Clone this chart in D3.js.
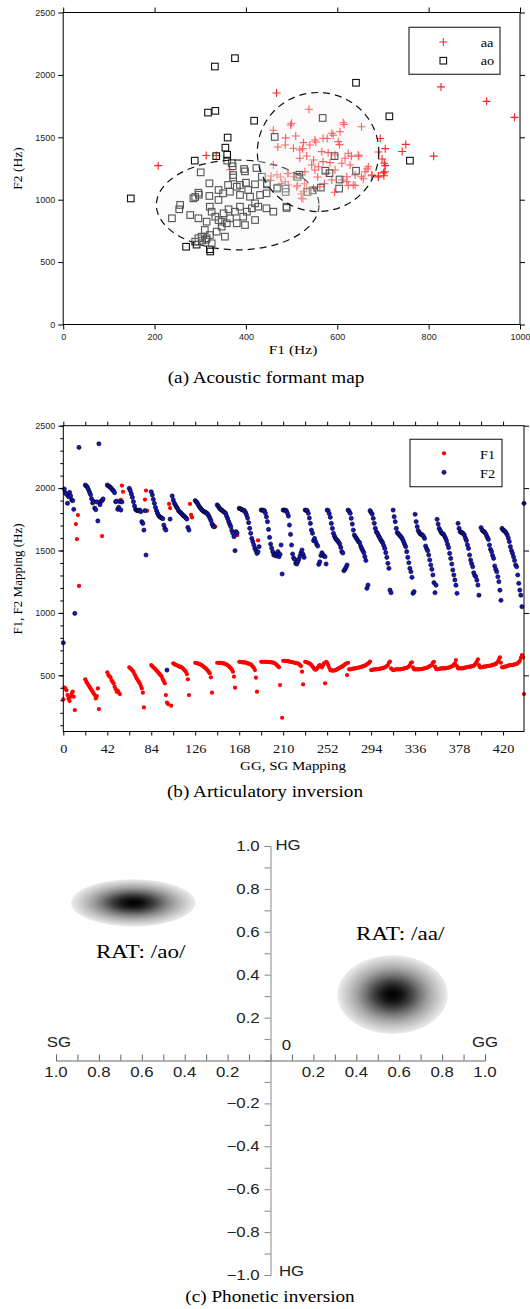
<!DOCTYPE html>
<html>
<head>
<meta charset="utf-8">
<script src="https://cdn.jsdelivr.net/npm/d3@7"></script>
<style>
  body { margin: 0; background: #fff; }
</style>
</head>
<body>
<svg id="fig" width="530" height="1309"></svg>
<script>
// ---------- (a) acoustic formant map: [F1, F2] in Hz ----------
const aaPoints = [
  [827,1904],[927,1788],[988,1660],[811,1349],[208,1273],[467,1855],[538,1725],[750,1443],[742,1386],
  [313,1354],[335,1354],[653,1584],[615,1603],[498,1598],[487,1495],[509,1511],[460,1557],[470,1422],
  [578,1490],[591,1517],[605,1441],[694,1490],[705,1409],[690,1382],[698,1326],[705,1273],[702,1192],
  [631,1349],[647,1349],[665,1246],[676,1192],[553,1462],[524,1409],[500,1612],[613,1617],[606,1545],
  [588,1532],[569,1492],[551,1478],[526,1457],[540,1438],[602,1465],[486,1438],[504,1412],[518,1398],
  [566,1385],[580,1377],[595,1358],[624,1372],[646,1358],[518,1332],[533,1350],[548,1318],[569,1305],
  [584,1297],[610,1292],[628,1278],[617,1332],[668,1264],[661,1224],[675,1198],[690,1190],[704,1224],
  [703,1292],[653,1184],[639,1198],[635,1118],[621,1184],[610,1158],[621,1144],[588,1158],[577,1212],
  [595,1238],[559,1264],[551,1238],[544,1278],[529,1224],[518,1198],[504,1184],[493,1212],[486,1144],
  [478,1131],[493,1118],[511,1104],[533,1091],[526,1064],[522,1011],[548,1091],[562,1104],[454,1155],
  [476,1182],[491,1209],[513,1114],[528,1128],[521,1046],[525,1006],[557,1182],[572,1128],[594,1060],
  [624,1114],[639,1114],[657,1168],[676,1196],[690,1182],[701,1215],[365,1240],[460,1278],[455,1190],
  [468,1200]
];
const aoPoints = [
  [332,2067],[376,2134],[641,1937],[317,1698],[333,1712],[418,1633],[568,1655],[714,1668],[759,1313],
  [360,1498],[355,1417],[359,1360],[335,1349],[359,1313],[288,1313],[301,1219],[371,1268],[372,1178],
  [398,1227],[423,1254],[463,1503],[594,1349],[641,1232],[517,1200],[574,1232],[583,1213],[148,1010],
  [369,1292],[372,1198],[396,1246],[435,1184],[446,1123],[469,1096],[320,1131],[340,1078],[361,1118],
  [380,1104],[387,1118],[400,1136],[420,1123],[296,1056],[285,1011],[320,1030],[340,998],[350,1051],
  [365,1064],[387,1038],[405,1078],[409,1024],[431,1038],[445,1051],[256,958],[254,923],[278,877],
  [238,851],[321,944],[325,904],[333,864],[340,837],[351,891],[362,923],[365,851],[376,904],[387,944],
  [394,864],[402,904],[413,931],[420,971],[427,944],[445,931],[460,904],[489,944],[420,837],[296,851],
  [314,824],[347,824],[358,811],[380,811],[398,797],[310,757],[321,717],[303,704],[296,691],[314,691],
  [336,744],[354,704],[347,784],[289,664],[325,651],[269,623],[321,603],[487,1089],[487,1062],[489,934],
  [605,1162],[604,1089],[564,1097],[546,1075],[535,1062],[513,1183],[446,1130],[468,1089],[289,1022],
  [297,1040],[322,585],[292,640],[304,672],[313,680]
];
// dashed cluster ellipses: centre and half-axes in Hz
const clusterNames = ['ao', 'aa'];
const clusterCentres = [[382, 958], [558, 1382]];
const clusterRadii = [[178, 360], [133, 477]];
const aXTicks = [0, 200, 400, 600, 800, 1000];
const aYTicks = [0, 500, 1000, 1500, 2000, 2500];

// ---------- (b) articulatory inversion: one value per GG/SG grid index ----------
const bF1 = [
  [307,401,395,380,342,313,294,329,355,369,329,222,1712,1592,1784,1216,null,null,null,null,null],
  [468,449,435,422,408,395,382,369,355,342,315,334,395,230,1883,1891,1616,null,null,null,null],
  [524,502,493,484,462,449,436,409,390,369,377,360,350,1905,2020,1971,null,null,null,null,null],
  [564,556,548,538,529,510,494,476,462,450,436,415,395,361,243,1908,1981,1818,null,null,null],
  [582,573,564,556,548,538,529,520,510,500,489,468,452,436,342,281,270,1873,1840,257,null],
  [596,590,585,582,578,574,570,567,564,556,548,538,529,510,468,342,1873,1786,1765,null,null],
  [601,599,596,593,590,586,582,576,569,562,556,547,537,527,516,484,361,1710,1696,1691,null],
  [601,601,601,600,599,598,596,593,590,586,580,574,565,556,545,529,489,401,1646,1623,null],
  [609,608,606,604,604,604,602,600,596,593,590,588,580,569,560,542,481,369,1582,null,null],
  [609,609,609,609,609,608,608,607,606,605,604,603,601,596,590,582,573,564,422,null,160],
  [617,617,616,615,614,612,611,609,607,605,603,601,599,597,596,590,582,574,529,427,null],
  [609,606,603,600,596,590,582,570,560,548,545,550,561,575,582,575,564,580,596,436,609],
  [600,582,560,542,540,537,538,540,542,546,550,556,560,565,569,575,580,588,595,502,601],
  [548,548,550,552,554,556,556,558,560,562,564,566,569,572,574,578,582,588,595,601,610],
  [542,544,546,548,548,548,550,550,552,554,556,558,560,564,568,574,582,601,610,556,548],
  [542,544,546,548,548,548,548,548,550,552,554,556,558,560,564,570,582,601,605,564,548],
  [548,548,548,548,548,550,550,552,554,556,558,560,564,568,574,578,582,600,609,569,552],
  [548,550,552,554,556,556,556,556,556,558,560,562,564,568,572,574,585,596,622,574,556],
  [556,556,556,556,558,560,562,564,566,568,569,570,572,574,576,585,596,610,628,582,564],
  [564,566,568,569,570,572,574,575,576,578,580,582,585,588,590,600,609,625,644,601,564],
  [564,566,569,572,575,578,580,582,582,582,584,587,590,593,596,605,617,640,662,644,350]
];
const bF2 = [
  [761,1993,1963,1950,1878,1931,1966,1937,1905,1899,1830,996,null,null,null,2326,null,null,null,null,null],
  [2024,2016,2008,1989,1968,1948,1915,1881,1894,1840,1827,1889,1737,2355,1867,1894,1900,1913,null,null,null],
  [2025,2018,2012,2005,1998,1985,1979,1963,1891,1896,1830,1846,1891,1824,1889,null,null,null,null,null,null],
  [1998,1979,1953,1926,1891,1857,1830,1822,1819,1821,1824,1811,1731,1717,1664,1819,1464,null,null,null,null],
  [1971,1945,1910,1878,1846,1820,1798,1780,1771,1766,1760,1755,1704,1677,1664,542,null,null,1752,null,1937],
  [1905,1880,1865,1850,1838,1819,1810,1803,1795,1784,1778,1771,1762,1752,1685,1664,null,null,null,null,null],
  [1900,1890,1881,1865,1850,1840,1828,1820,1813,1808,1805,1800,1790,1775,1760,1740,1712,1696,1690,null,null],
  [1865,1855,1840,1832,1825,1819,1812,1805,1798,1775,1755,1731,1710,1691,1660,1638,1611,1499,1651,1640,null],
  [1838,1835,1830,1826,1822,1819,1805,1785,1760,1723,1678,1638,1597,1571,1544,1517,1499,1477,1490,1531,null],
  [1824,1824,1822,1820,1800,1770,1731,1669,1605,1552,1520,1491,1464,1470,1456,1475,1491,1450,1470,1544,1312],
  [1824,1824,1822,1819,1800,1776,1704,1629,1544,1472,1440,1429,1397,1392,1410,1430,1456,1482,1504,1470,1445],
  [1824,1822,1819,1798,1760,1717,1664,1638,1579,1597,1571,1550,1536,1389,1410,1460,1482,1465,1456,1450,1392],
  [1824,1819,1795,1766,1717,1677,1638,1615,1597,1585,1579,1565,1552,1525,1491,1480,1338,1349,1365,1384,1824],
  [1815,1798,1758,1712,1664,1624,1610,1597,1584,1570,1563,1536,1517,1500,1483,1451,1420,1197,1223,null,1819],
  [1805,1792,1758,1718,1678,1650,1638,1620,1605,1589,1575,1563,1540,1517,1483,1445,1397,1357,1183,1162,null],
  [1824,1771,1731,1677,1643,1635,1624,1615,1605,1590,1571,1550,1531,1491,1445,1402,1357,1330,1285,1157,1170],
  [1790,1731,1691,1659,1645,1632,1628,1624,1615,1597,1536,1515,1499,1464,1424,1384,1349,1304,1242,1162,1222],
  [1750,1712,1677,1660,1643,1635,1632,1616,1600,1579,1550,1523,1477,1437,1392,1344,1304,1264,1222,1157,1718],
  [1677,1651,1645,1643,1635,1624,1600,1580,1545,1517,1464,1424,1395,1370,1322,1300,1290,1262,1223,1142,null],
  [1683,1664,1655,1651,1640,1624,1605,1589,1544,1510,1491,1460,1437,1376,1350,1330,1290,1250,1182,1101,1677],
  [1664,1660,1651,1640,1624,1600,1571,1531,1500,1477,1450,1420,1384,1370,1304,1237,1183,1142,1050,null,1878]
];
const bXTicks = [0,21,42,63,84,105,126,147,168,189,210,231,252,273,294,315,336,357,378,399,420];
const bXLabels = [0,42,84,126,168,210,252,294,336,378,420];
const bYTicks = [500, 1000, 1500, 2000, 2500];
const bYMinor = [100,200,300,400,500,600,700,800,900,1000,1100,1200,1300,1400,1500,1600,1700,1800,1900,2000,2100,2200,2300,2400,2500];

// ---------- (c) phonetic inversion ----------
const cTicks = [-1,-0.9,-0.8,-0.7,-0.6,-0.5,-0.4,-0.3,-0.2,-0.1,0,0.1,0.2,0.3,0.4,0.5,0.6,0.7,0.8,0.9,1];
const cLabels = [-1,-0.8,-0.6,-0.4,-0.2,0.2,0.4,0.6,0.8,1];
const blobNames = ['RAT: /ao/', 'RAT: /aa/'];
const blobCentres = [[-0.64, 0.735], [0.569, 0.307]];
const blobSpread = [[0.29, 0.11], [0.257, 0.184]];
const blobLabelAt = [[-0.605, 0.48], [0.605, 0.56]];

const SANS = '"Liberation Sans", Arial, Helvetica, sans-serif';
const SERIF = '"Liberation Serif", "Times New Roman", Times, serif';

const svg = d3.select('#fig');

function txt(g, x, y, s, o = {}) {
  let tr = `translate(${x},${y})`;
  if (o.rotate) tr += ` rotate(${o.rotate})`;
  if (o.sx) tr += ` scale(${o.sx},1)`;
  return g.append('text')
    .attr('transform', tr)
    .attr('text-anchor', o.anchor || 'middle')
    .style('font-family', o.serif ? SERIF : SANS)
    .style('font-size', (o.size || 10) + 'px')
    .attr('fill', o.fill || '#000')
    .text(s);
}

function styleAxis(g, o) {
  g.select('.domain').remove();
  g.selectAll('line').attr('stroke', o.stroke || '#000');
  g.selectAll('text')
    .style('font-family', o.serif ? SERIF : SANS)
    .style('font-size', o.size + 'px')
    .attr('fill', o.fill || '#222')
    .attr('transform', `scale(${o.sx || 1},1)`);
}

// ================= panel (a) =================
const ax = d3.scaleLinear().domain([0, 1000]).range([63.2, 520]);
const ay = d3.scaleLinear().domain([0, 2500]).range([324.5, 12.5]);
const pa = svg.append('g');

pa.append('g').selectAll('path')
  .data(aaPoints)
  .join('path')
  .attr('d', d => `M${ax(d[0]) - 4},${ay(d[1])}h8M${ax(d[0])},${ay(d[1]) - 4}v8`)
  .attr('stroke', '#ff2222')
  .attr('stroke-width', 1.1)
  .attr('fill', 'none');

pa.append('g').selectAll('rect')
  .data(aoPoints)
  .join('rect')
  .attr('x', d => ax(d[0]) - 3.3)
  .attr('y', d => ay(d[1]) - 3.3)
  .attr('width', 6.6)
  .attr('height', 6.6)
  .attr('fill', 'none')
  .attr('stroke', '#111')
  .attr('stroke-width', 1.1);

pa.append('g').selectAll('ellipse')
  .data(clusterNames)
  .join('ellipse')
  .attr('cx', (d, i) => ax(clusterCentres[i][0]))
  .attr('cy', (d, i) => ay(clusterCentres[i][1]))
  .attr('rx', (d, i) => ax(clusterCentres[i][0] + clusterRadii[i][0]) - ax(clusterCentres[i][0]))
  .attr('ry', (d, i) => ay(clusterCentres[i][1]) - ay(clusterCentres[i][1] + clusterRadii[i][1]))
  .attr('fill', '#f3f3f3')
  .attr('fill-opacity', 0.3)
  .attr('stroke', '#111')
  .attr('stroke-width', 1.2)
  .attr('stroke-dasharray', '7,5');

pa.append('rect')
  .attr('x', ax(0)).attr('y', ay(2500))
  .attr('width', ax(1000) - ax(0)).attr('height', ay(0) - ay(2500))
  .attr('fill', 'none').attr('stroke', '#000');

const intFmt = d3.format('d');
styleAxis(pa.append('g').attr('transform', `translate(0,${ay(0)})`)
  .call(d3.axisBottom(ax).tickValues(aXTicks).tickSize(5).tickPadding(4).tickFormat(intFmt)), { size: 9 });
styleAxis(pa.append('g').attr('transform', `translate(0,${ay(2500)})`)
  .call(d3.axisTop(ax).tickValues(aXTicks).tickSize(5).tickFormat(() => '')), { size: 9 });
styleAxis(pa.append('g').attr('transform', `translate(${ax(0)},0)`)
  .call(d3.axisLeft(ay).tickValues(aYTicks).tickSize(5).tickPadding(3).tickFormat(intFmt)), { size: 9 });
styleAxis(pa.append('g').attr('transform', `translate(${ax(1000)},0)`)
  .call(d3.axisRight(ay).tickValues(aYTicks).tickSize(5).tickFormat(() => '')), { size: 9 });

// legend (a)
pa.append('rect').attr('x', 409).attr('y', 27.3).attr('width', 91).attr('height', 47)
  .attr('fill', '#fff').attr('stroke', '#333').attr('stroke-width', 1.2);
pa.append('path').attr('d', 'M439.3,42h8M443.3,38v8').attr('stroke', '#ff2222').attr('stroke-width', 1.1);
pa.append('rect').attr('x', 440).attr('y', 57.4).attr('width', 6.6).attr('height', 6.6)
  .attr('fill', 'none').attr('stroke', '#111').attr('stroke-width', 1.1);
txt(pa, 480.7, 46.5, 'aa', { serif: true, size: 13, anchor: 'start', sx: 1.1 });
txt(pa, 480.7, 65, 'ao', { serif: true, size: 13, anchor: 'start', sx: 1.1 });

txt(pa, 293, 354, 'F1 (Hz)', { serif: true, size: 13.5, sx: 1.15 });
txt(pa, 22, 168.5, 'F2 (Hz)', { serif: true, size: 13.5, rotate: -90 });
txt(svg, 266, 383, '(a)  Acoustic formant map', { serif: true, size: 16, sx: 1.2 });

// ================= panel (b) =================
const bx = d3.scaleLinear().domain([0, 440]).range([63.3, 524]);
const by = d3.scaleLinear().domain([50, 2500]).range([731.5, 425.7]);
const pb = svg.append('g');

const f1Flat = bF1.flat().map((v, i) => [i, v]).filter(d => d[1] != null);
const f2Flat = bF2.flat().map((v, i) => [i, v]).filter(d => d[1] != null);

pb.append('g').selectAll('circle')
  .data(f1Flat)
  .join('circle')
  .attr('cx', d => bx(d[0]))
  .attr('cy', d => by(d[1]))
  .attr('r', 2.1)
  .attr('fill', '#ff0000');

pb.append('g').selectAll('circle')
  .data(f2Flat)
  .join('circle')
  .attr('cx', d => bx(d[0]))
  .attr('cy', d => by(d[1]))
  .attr('r', 2.1)
  .attr('fill', '#1414c8')
  .attr('stroke', '#000')
  .attr('stroke-width', 0.6);

pb.append('rect')
  .attr('x', bx(0)).attr('y', by(2500))
  .attr('width', bx(440) - bx(0)).attr('height', by(50) - by(2500))
  .attr('fill', 'none').attr('stroke', '#000');

styleAxis(pb.append('g').attr('transform', `translate(0,${by(50)})`)
  .call(d3.axisBottom(bx).tickValues(bXTicks).tickSize(4).tickPadding(8)
    .tickFormat(d => bXLabels.includes(d) ? d : '')), { size: 13, serif: true, sx: 1.1, fill: '#111' });
styleAxis(pb.append('g').attr('transform', `translate(0,${by(2500)})`)
  .call(d3.axisTop(bx).tickValues(bXTicks).tickSize(4).tickFormat(() => '')), { size: 9 });
styleAxis(pb.append('g').attr('transform', `translate(${bx(0)},0)`)
  .call(d3.axisLeft(by).tickValues(bYMinor).tickSize(3).tickFormat(() => '')), { size: 9 });
styleAxis(pb.append('g').attr('transform', `translate(${bx(0)},0)`)
  .call(d3.axisLeft(by).tickValues(bYTicks).tickSize(5).tickPadding(3).tickFormat(intFmt)), { size: 9 });
styleAxis(pb.append('g').attr('transform', `translate(${bx(440)},0)`)
  .call(d3.axisRight(by).tickValues(bYTicks).tickSize(5).tickFormat(() => '')), { size: 9 });

// legend (b)
pb.append('rect').attr('x', 410).attr('y', 439.3).attr('width', 92).attr('height', 47.4)
  .attr('fill', '#fff').attr('stroke', '#333').attr('stroke-width', 1.2);
pb.append('circle').attr('cx', 444).attr('cy', 453.3).attr('r', 2.1).attr('fill', '#ff0000');
pb.append('circle').attr('cx', 444).attr('cy', 472.3).attr('r', 2.1).attr('fill', '#1414c8')
  .attr('stroke', '#000').attr('stroke-width', 0.6);
txt(pb, 480, 458.5, 'F1', { serif: true, size: 13, anchor: 'start', sx: 1.1 });
txt(pb, 480, 477.5, 'F2', { serif: true, size: 13, anchor: 'start', sx: 1.1 });

txt(pb, 293, 770, 'GG, SG Mapping', { serif: true, size: 13, sx: 1.15 });
txt(pb, 22, 579, 'F1, F2 Mapping  (Hz)', { serif: true, size: 13, rotate: -90 });
txt(svg, 265, 797, '(b)  Articulatory inversion', { serif: true, size: 16, sx: 1.2 });

// ================= panel (c) =================
const cx = d3.scaleLinear().domain([-1, 1]).range([56, 485]);
const cy = d3.scaleLinear().domain([-1, 1]).range([1275, 846]);
const pc = svg.append('g');

const defs = svg.append('defs');
const grad = defs.append('radialGradient').attr('id', 'blob');
[[0, '#000'], [0.1, '#080808'], [0.2, '#1a1a1a'], [0.35, '#444'], [0.5, '#777'],
 [0.65, '#a2a2a2'], [0.8, '#c4c4c4'], [0.92, '#dcdcdc'], [1, '#ececec']]
  .forEach(s => grad.append('stop').attr('offset', s[0]).attr('stop-color', s[1]));

pc.append('g').selectAll('ellipse')
  .data(blobNames)
  .join('ellipse')
  .attr('cx', (d, i) => cx(blobCentres[i][0]))
  .attr('cy', (d, i) => cy(blobCentres[i][1]))
  .attr('rx', (d, i) => cx(blobSpread[i][0]) - cx(0))
  .attr('ry', (d, i) => cy(0) - cy(blobSpread[i][1]))
  .attr('fill', 'url(#blob)');

blobNames.forEach((name, i) => {
  txt(pc, cx(blobLabelAt[i][0]), cy(blobLabelAt[i][1]), name, { serif: true, size: 19, sx: 1.22 });
});

const hAxis = pc.append('g').attr('transform', `translate(0,${cy(0)})`)
  .call(d3.axisTop(cx).tickValues(cTicks).tickSize(6).tickFormat(() => ''));
hAxis.selectAll('path,line').attr('stroke', '#666');

const vAxis = pc.append('g').attr('transform', `translate(${cx(0)},0)`)
  .call(d3.axisLeft(cy).tickValues(cTicks).tickSize(6).tickPadding(3)
    .tickFormat(d => cLabels.includes(d) ? d3.format('.1f')(d) : ''));
vAxis.selectAll('path,line').attr('stroke', '#888');
vAxis.selectAll('text')
  .style('font-family', SANS).style('font-size', '14px').attr('fill', '#222')
  .attr('transform', 'scale(1.2,1)');

pc.append('g').selectAll('text')
  .data(cLabels)
  .join('text')
  .attr('transform', d => `translate(${cx(d)},1077) scale(1.2,1)`)
  .attr('text-anchor', 'middle')
  .style('font-family', SANS).style('font-size', '14px').attr('fill', '#222')
  .text(d => d3.format('.1f')(Math.abs(d)));

txt(pc, 275.5, 850.4, 'HG', { size: 14, anchor: 'start', sx: 1.2, fill: '#222' });
txt(pc, 279, 1275.5, 'HG', { size: 14, anchor: 'start', sx: 1.2, fill: '#222' });
txt(pc, 58.8, 1046.5, 'SG', { size: 14, sx: 1.2, fill: '#222' });
txt(pc, 485, 1046.5, 'GG', { size: 14, sx: 1.2, fill: '#222' });
txt(pc, 286.5, 1050, '0', { size: 14, sx: 1.2, fill: '#222' });

txt(svg, 270, 1302, '(c)  Phonetic inversion', { serif: true, size: 16, sx: 1.2 });
</script>
</body>
</html>
